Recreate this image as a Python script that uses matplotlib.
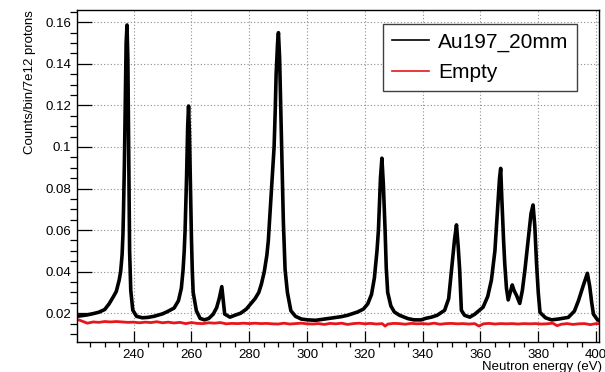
import numpy as np
import matplotlib
matplotlib.use("Agg")
import matplotlib.pyplot as plt
from matplotlib.ticker import MultipleLocator, FuncFormatter

plt.rcParams['font.family'] = ['Liberation Sans', 'DejaVu Sans']

# Au197_20mm spectrum
au_e = [220, 222, 224, 226, 228, 230, 231.5, 233, 234, 235, 235.5, 236, 236.3, 236.5,
        236.8, 237, 237.2, 237.4, 237.7, 238.0, 238.3, 238.6, 239, 239.7, 241, 243,
        245, 247, 250, 252, 254, 255.5, 256.5, 257.1, 257.5, 257.8, 258.3, 258.7,
        259.0, 259.3, 259.7, 260.0, 260.3, 260.6, 261.7, 263, 264.5, 266, 267.5,
        268.7, 269.6, 270.5, 271.0, 271.5, 273.3, 275, 277, 279, 280.5, 282, 283.3,
        284.2, 285.2, 286.1, 286.6, 287, 287.5, 288, 288.6, 289.0, 289.3, 289.8,
        290.1, 290.5, 290.9, 291.2, 291.5, 291.8, 292.4, 293.2, 294.4, 296, 298,
        300.2, 303, 306, 309, 311.7, 314, 317.5, 319.5, 321, 322.3, 323.3, 324.2,
        324.7, 325.4, 325.9, 326.4, 327.0, 327.4, 327.9, 329, 330.2, 332, 334.9,
        337, 339.5, 341, 343, 345, 347.6, 349, 350, 351, 351.7, 352.3, 352.8,
        353.4, 354.5, 356.3, 358, 360.9, 362.5, 363.8, 365, 366, 366.6, 367.0,
        367.4, 368.0, 368.4, 369.0, 369.6, 370.3, 371.0, 371.6, 372.5, 373.6,
        374.5, 375.4, 376.5, 377.5, 378.2, 378.8, 379.4, 380.0, 380.6, 382.5,
        384.6, 387, 390.4, 392.5, 393.9, 395.5, 397.0, 397.8, 398.5, 399.1,
        400.5, 402]
au_y = [0.0185, 0.0188, 0.0192, 0.0198, 0.0205, 0.0218, 0.0245, 0.028, 0.0305, 0.036,
        0.040, 0.048, 0.058, 0.070, 0.092, 0.112, 0.135, 0.150, 0.1587, 0.142,
        0.098, 0.050, 0.031, 0.0215, 0.0185, 0.0178, 0.018, 0.0185, 0.0197, 0.021,
        0.0225, 0.026, 0.032, 0.0408, 0.050, 0.060, 0.085, 0.110, 0.1197, 0.107,
        0.078, 0.056, 0.040, 0.030, 0.0212, 0.0175, 0.0168, 0.0175, 0.0195, 0.0226,
        0.027, 0.0328, 0.026, 0.0196, 0.0181, 0.019, 0.020, 0.022, 0.0245, 0.027,
        0.030, 0.034, 0.040, 0.048, 0.055, 0.064, 0.075, 0.086, 0.10, 0.118, 0.135,
        0.150, 0.155, 0.143, 0.118, 0.10, 0.080, 0.064, 0.041, 0.030, 0.0212,
        0.0185, 0.0172, 0.0168, 0.0166, 0.0172, 0.0178, 0.0183, 0.019, 0.0206,
        0.022, 0.0245, 0.029, 0.037, 0.050, 0.060, 0.085, 0.0946, 0.082, 0.060,
        0.042, 0.030, 0.0235, 0.0206, 0.019, 0.0174, 0.0168, 0.0168, 0.0175,
        0.0181, 0.019, 0.0214, 0.027, 0.0408, 0.055, 0.0625, 0.052, 0.041, 0.0214,
        0.019, 0.0181, 0.0195, 0.0229, 0.028, 0.036, 0.050, 0.072, 0.085, 0.0897,
        0.075, 0.055, 0.044, 0.032, 0.0264, 0.030, 0.0336, 0.031, 0.0285, 0.0247,
        0.031, 0.041, 0.055, 0.068, 0.0721, 0.062, 0.044, 0.030, 0.0204, 0.0178,
        0.0168, 0.0172, 0.018, 0.021, 0.026, 0.033, 0.0392, 0.033, 0.025, 0.0195,
        0.0168, 0.016]

# Empty target
empty_e = [220, 221, 222.5, 224, 226, 228, 230, 232, 234, 236, 238, 240, 242, 244,
           246, 248, 250, 252, 254, 256, 258, 260, 262, 264, 266, 268, 270, 272,
           274, 276, 278, 280, 282, 284, 286, 288, 290, 292, 294, 296, 298, 300,
           302, 304, 306, 308, 310, 312, 314, 316, 318, 320, 322, 324, 326, 327,
           328, 330, 332, 334, 336, 338, 340, 342, 344, 346, 348, 350, 352, 354,
           356, 358, 359.5, 361, 363, 365, 367, 369, 371, 373, 375, 377, 379, 381,
           383, 385, 386.5, 388, 390, 392, 394, 396, 398, 400, 402]
empty_y = [0.0165, 0.0168, 0.0160, 0.0152, 0.0158, 0.0156, 0.0160, 0.0158, 0.0160,
           0.0158, 0.0156, 0.0157, 0.0154, 0.0157, 0.0155, 0.0159, 0.0154, 0.0157,
           0.0153, 0.0156, 0.0150, 0.0155, 0.0151, 0.0150, 0.0154, 0.0152, 0.0155,
           0.0149, 0.0151, 0.0150, 0.0152, 0.0150, 0.0152, 0.0150, 0.0151, 0.0149,
           0.0148, 0.0152, 0.0148, 0.0150, 0.0152, 0.0149, 0.0148, 0.0150, 0.0146,
           0.0151, 0.0149, 0.0152, 0.0146, 0.0150, 0.0152, 0.0149, 0.0151, 0.0148,
           0.0150, 0.0138, 0.0148, 0.0151, 0.0150, 0.0147, 0.0151, 0.0149, 0.0150,
           0.0148, 0.0152, 0.0147, 0.0150, 0.0151, 0.0149, 0.0150, 0.0148, 0.0150,
           0.0138, 0.0149, 0.0151, 0.0148, 0.0150, 0.0149, 0.0150, 0.0148, 0.0150,
           0.0149, 0.0150, 0.0148, 0.0149, 0.0152, 0.0140, 0.0147, 0.0150, 0.0146,
           0.0149, 0.0150, 0.0145, 0.0150, 0.0149]

fig = plt.figure(figsize=(6.05, 3.72), dpi=100)
ax = fig.add_axes([0.1268, 0.0815, 0.8632, 0.8915])

ax.plot(au_e, au_y, color='black', lw=2.6, label='Au197_20mm')
ax.plot(empty_e, empty_y, color='#e8161b', lw=2.0, label='Empty')

ax.set_xlim(220.3, 401)
ax.set_ylim(0.0063, 0.1659)

ax.xaxis.set_major_locator(MultipleLocator(20))
ax.xaxis.set_minor_locator(MultipleLocator(5))
ax.yaxis.set_major_locator(MultipleLocator(0.02))
ax.yaxis.set_minor_locator(MultipleLocator(0.005))
ax.yaxis.set_major_formatter(FuncFormatter(lambda v, p: '%g' % round(v, 3)))

ax.tick_params(axis='both', direction='in', labelsize=9.5, width=0.9)
ax.tick_params(axis='y', which='major', length=10.5, pad=4)
ax.tick_params(axis='y', which='minor', length=5, width=0.9)
ax.tick_params(axis='x', which='major', length=8, pad=5)
ax.tick_params(axis='x', which='minor', length=3.8, width=0.9)

ax.grid(True, which='major', color='0.55', ls=(0, (1, 2)), lw=0.8)
for s in ax.spines.values():
    s.set_linewidth(1.0)

ax.set_ylabel('Counts/bin/7e12 protons', fontsize=9.5, loc='top', labelpad=7)
ax.set_xlabel('Neutron energy (eV)', fontsize=9.5, loc='right', labelpad=0)
ax.xaxis.label.set_x(1.006)

leg = ax.legend(loc='upper right', bbox_to_anchor=(0.958, 0.958), fontsize=15,
                fancybox=False, framealpha=1, edgecolor='0.25', handlelength=1.75,
                labelspacing=0.55, borderpad=0.42, handletextpad=0.45,
                borderaxespad=0)
leg.get_frame().set_linewidth(1.0)
for h in leg.get_lines():
    h.set_linewidth(1.2)

fig.savefig('out.png', dpi=100)
